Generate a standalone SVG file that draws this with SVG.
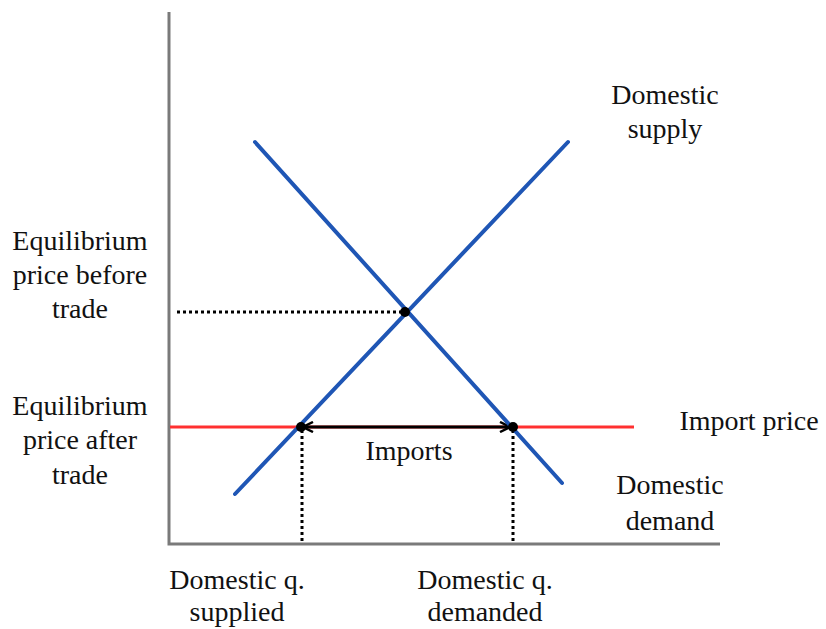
<svg xmlns="http://www.w3.org/2000/svg" width="826" height="629" viewBox="0 0 826 629">
<defs>
<style>
text{font-family:"Liberation Serif","Times New Roman",serif;font-size:28px;fill:#111;text-anchor:middle}
.axis{stroke:#7a7a7a;stroke-width:3;fill:none}
.curve{stroke:#1f56b5;stroke-width:4;fill:none;stroke-linecap:round}
.red{stroke:#ff3030;stroke-width:3;fill:none}
.dot{stroke:#000;stroke-width:3;stroke-dasharray:3 3;fill:none}
.arrow{stroke:#000;stroke-width:3;fill:none}
</style>
<marker id="ah" viewBox="0 0 12 12" refX="11" refY="6" markerWidth="12" markerHeight="12" markerUnits="userSpaceOnUse" orient="auto-start-reverse">
<path d="M1,1 L11,6 L1,11" fill="none" stroke="#000" stroke-width="2.5"/>
</marker>
</defs>
<g id="axes">
<path class="axis" d="M169,12 V544 H720"/>
</g>
<g id="connectors">
<path class="red" d="M170,427 H634"/>
<path class="dot" d="M177,312 H405"/>
<path class="dot" d="M302,430 V542"/>
<path class="dot" d="M513,430 V542"/>
<path class="arrow" d="M303,427 H510" marker-start="url(#ah)" marker-end="url(#ah)"/>
</g>
<g id="supply"><path class="curve" d="M235,494 L568,142"/></g>
<g id="demand"><path class="curve" d="M255,142 L562,483"/></g>
<g id="points">
<circle cx="405" cy="312" r="5" fill="#000"/>
<circle cx="301" cy="427" r="5" fill="#000"/>
<circle cx="513" cy="427" r="5" fill="#000"/>
</g>
<g id="label-eq-before">
<text x="80" y="250">Equilibrium</text>
<text x="80" y="284">price before</text>
<text x="80" y="318">trade</text>
</g>
<g id="label-eq-after">
<text x="80" y="415">Equilibrium</text>
<text x="80" y="449">price after</text>
<text x="80" y="484">trade</text>
</g>
<g id="label-supply">
<text x="665" y="104">Domestic</text>
<text x="665" y="138">supply</text>
</g>
<g id="label-import-price"><text x="749" y="430">Import price</text></g>
<g id="label-imports"><text x="409" y="460">Imports</text></g>
<g id="label-demand">
<text x="670" y="494">Domestic</text>
<text x="670" y="530">demand</text>
</g>
<g id="label-qs">
<text x="237" y="589">Domestic q.</text>
<text x="237" y="621">supplied</text>
</g>
<g id="label-qd">
<text x="485" y="589">Domestic q.</text>
<text x="485" y="621">demanded</text>
</g>
</svg>
